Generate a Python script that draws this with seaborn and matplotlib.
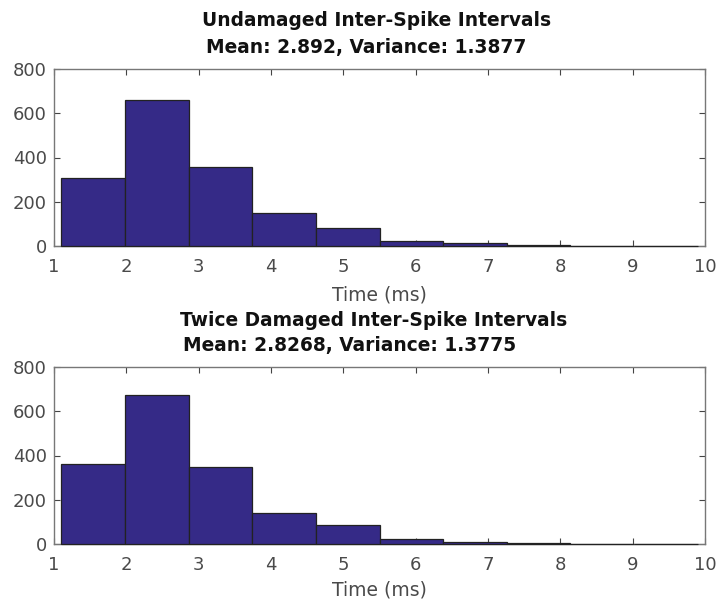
import numpy as np
import pandas as pd
import matplotlib
matplotlib.use("Agg")
import matplotlib.pyplot as plt
import seaborn as sns

# ---- data ----
bin_edges = [1.10, 1.98, 2.86, 3.74, 4.62, 5.50, 6.38, 7.26, 8.14, 9.02, 9.90]
undamaged_counts = [308, 660, 355, 151, 82, 21, 12, 3, 2, 2]
damaged_counts = [360, 675, 348, 141, 86, 21, 11, 3, 2, 2]
x_ticks = [1, 2, 3, 4, 5, 6, 7, 8, 9, 10]
y_ticks = [0, 200, 400, 600, 800]
titles_top = ["Undamaged Inter-Spike Intervals", "Mean: 2.892, Variance: 1.3877"]
titles_bottom = ["Twice Damaged Inter-Spike Intervals", "Mean: 2.8268, Variance: 1.3775"]
x_label = "Time (ms)"

sns.set_theme(style="white")
plt.rcParams['font.family'] = ['DejaVu Sans']

W, H = 719, 607
fig = plt.figure(figsize=(W / 100, H / 100), dpi=100)

bar_color = "#352a87"
tick_color = "#4a4a4a"
TICK_FS = 13
LABEL_FS = 13.5
TITLE_FS = 13.4


def fx(px):
    return px / W


def fy(py):
    return 1 - py / H


def make_axes(top_px, bottom_px):
    return fig.add_axes([fx(54), fy(bottom_px), fx(705) - fx(54), fy(top_px) - fy(bottom_px)])


def draw(ax, counts):
    centers = [(a + b) / 2 for a, b in zip(bin_edges[:-1], bin_edges[1:])]
    df = pd.DataFrame({"t": centers, "n": counts})
    sns.histplot(data=df, x="t", weights="n", bins=list(bin_edges), ax=ax,
                 color=bar_color, alpha=1.0, edgecolor="#222222", linewidth=0.9)
    for p in ax.patches:
        p.set_clip_on(False)
        p.set_zorder(3)
    ax.set_xlim(1, 10)
    ax.set_ylim(0, 800)
    ax.set_xticks(x_ticks)
    ax.set_yticks(y_ticks)
    ax.set_ylabel("")
    ax.set_xlabel("")
    ax.tick_params(axis="both", direction="in", length=4.5, width=0.8, colors="#444444",
                   labelcolor=tick_color, labelsize=TICK_FS, top=True, right=True,
                   bottom=True, left=True)
    ax.tick_params(axis="x", pad=8.5)
    ax.tick_params(axis="y", pad=5)
    for s in ax.spines.values():
        s.set_visible(True)
        s.set_color("#777777")
        s.set_linewidth(1.0)
        s.set_zorder(2)


ax1 = make_axes(69, 246)
draw(ax1, undamaged_counts)
ax1.set_xlabel(x_label, fontsize=LABEL_FS, color=tick_color, labelpad=7)

ax2 = make_axes(367, 544)
draw(ax2, damaged_counts)
ax2.set_xlabel(x_label, fontsize=LABEL_FS, color=tick_color, labelpad=5)

fig.text(fx(377), fy(21), titles_top[0], ha="center", va="center",
         fontsize=TITLE_FS, fontweight="bold", color="#111111")
fig.text(fx(366), fy(47), titles_top[1], ha="center", va="center",
         fontsize=TITLE_FS, fontweight="bold", color="#111111")
fig.text(fx(374), fy(320), titles_bottom[0], ha="center", va="center",
         fontsize=TITLE_FS, fontweight="bold", color="#111111")
fig.text(fx(350), fy(346), titles_bottom[1], ha="center", va="center",
         fontsize=TITLE_FS, fontweight="bold", color="#111111")

fig.savefig("out.png", dpi=100, facecolor="white")
